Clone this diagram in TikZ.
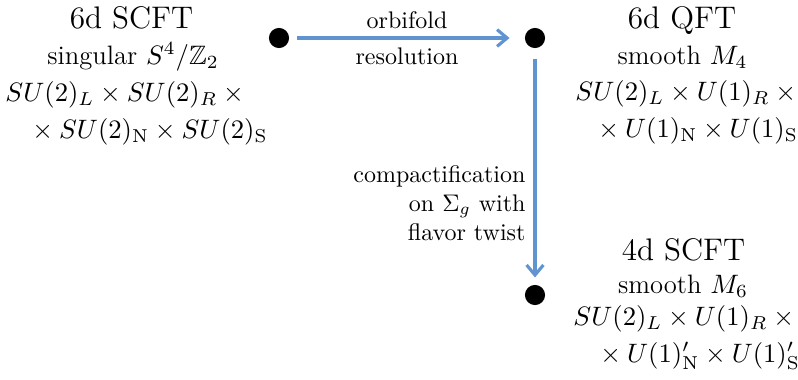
\RequirePackage{fix-cm}
\documentclass[tikz,border=0pt]{standalone}
\usepackage{amssymb}
\usetikzlibrary{arrows.meta}
\definecolor{arrowblue}{RGB}{95,148,208}
\tikzset{
  blackdot/.style={circle, fill=black, inner sep=0pt, minimum size=8.4pt},
  flow/.style={draw=arrowblue, line width=1.3pt, -{Straight Barb[length=4.2pt,width=7pt]}},
  ttl/.style={font=\fontsize{13}{15}\selectfont, inner sep=0pt, anchor=base},
  subttl/.style={font=\fontsize{11.1}{13}\selectfont, inner sep=0pt, anchor=base},
  grp/.style={font=\fontsize{11.1}{13}\selectfont, inner sep=0pt, anchor=base west},
  lbl/.style={font=\fontsize{10}{12}\selectfont, text=black}
}
\begin{document}
\begin{tikzpicture}[x=0.41667pt, y=-0.41667pt]
\useasboundingbox (0,0) rectangle (798,379);
% dots
\node[blackdot] (a) at (279,38) {};
\node[blackdot] (b) at (535,38) {};
\node[blackdot] (c) at (535,295) {};
% arrows
\draw[flow, shorten <=3.3pt, shorten >=6.2pt] (a) -- (b)
  node[midway, above, lbl] (l1) {orbifold}
  node[midway, below, lbl] (l2) {resolution};
\draw[flow, shorten <=4.2pt, shorten >=2.9pt] (b) -- (c)
  node[pos=0.655, left, lbl, align=right] (l3) {compactification\\ on $\Sigma_g$ with\\ flavor twist};
% left block
\node[ttl] (t1) at (131.5,28) {6d SCFT};
\node[subttl] (s1) at (133,64) {singular $S^4/\mathbb{Z}_2$};
\node[grp] (g1a) at (5,101) {$SU(2)_L\times SU(2)_R\>\times$};
\node[grp] (g1b) at (32,138) {$\times\> SU(2)_{\mathrm{N}}\times SU(2)_{\mathrm{S}}$};
% right top block
\node[ttl] (t2) at (682,28) {6d QFT};
\node[subttl] (s2) at (682.5,64) {smooth $M_4$};
\node[grp] (g2a) at (575,100) {$SU(2)_L\times U(1)_R\>\times$};
\node[grp] (g2b) at (598,137) {$\times\> U(1)_{\mathrm{N}}\times U(1)_{\mathrm{S}}$};
% bottom block
\node[ttl] (t3) at (683.5,260) {4d SCFT};
\node[subttl] (s3) at (683,293) {smooth $M_6$};
\node[grp] (g3a) at (573,325) {$SU(2)_L\times U(1)_R\>\times$};
\node[grp] (g3b) at (600,362) {$\times\> U(1)'_{\mathrm{N}}\times U(1)'_{\mathrm{S}}$};
\end{tikzpicture}
\end{document}
